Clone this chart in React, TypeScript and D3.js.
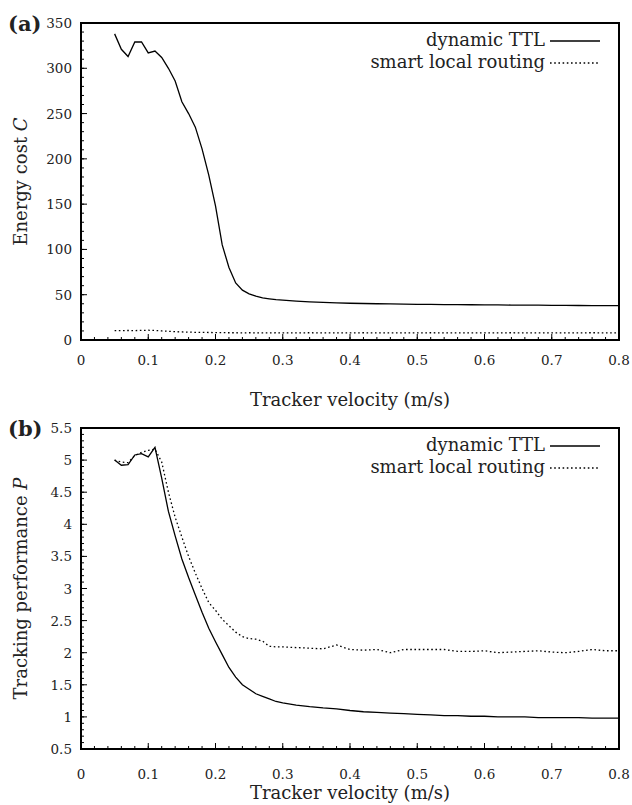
import React from "react";
import * as d3 from "d3";

const velocity = [
  0.05, 0.06, 0.07, 0.08, 0.09, 0.1, 0.11, 0.12, 0.13, 0.14, 0.15, 0.16, 0.17, 0.18, 0.19, 0.2,
  0.21, 0.22, 0.23, 0.24, 0.25, 0.26, 0.27, 0.28, 0.29, 0.3, 0.32, 0.34, 0.36, 0.38, 0.4, 0.42,
  0.44, 0.46, 0.48, 0.5, 0.52, 0.54, 0.56, 0.58, 0.6, 0.62, 0.64, 0.66, 0.68, 0.7, 0.72, 0.74,
  0.76, 0.78, 0.8,
];

const energyDynamic = [
  338, 321, 313, 329, 329, 317, 319, 312, 300, 286, 263, 250, 235, 211, 182, 148,
  105, 80, 63, 55, 51, 48.5, 46.5, 45.5, 44.5, 44, 43, 42.2, 41.5, 41, 40.6, 40.3,
  40, 39.8, 39.6, 39.4, 39.3, 39.1, 39, 38.9, 38.8, 38.7, 38.6, 38.5, 38.4, 38.3, 38.2, 38.1,
  38.0, 38.0, 37.9,
];

const energySmart = [
  10.3, 10.4, 10.5, 10.4, 10.6, 10.8, 10.5, 10.0, 9.6, 9.2, 8.9, 8.7, 8.5, 8.4, 8.3, 8.2,
  8.1, 8.0, 8.0, 7.9, 8.0, 7.9, 7.8, 7.9, 8.0, 7.9, 7.9, 8.0, 7.9, 7.8, 7.9, 8.0,
  7.9, 7.8, 7.9, 7.9, 8.0, 7.9, 7.9, 7.8, 7.9, 7.9, 8.0, 7.9, 7.9, 7.8, 7.9, 7.9,
  8.0, 7.9, 7.9,
];

const perfDynamic = [
  5.0, 4.92, 4.93, 5.08, 5.1, 5.05, 5.2, 4.72, 4.2, 3.82, 3.46, 3.17, 2.9, 2.63, 2.38, 2.17,
  1.97, 1.77, 1.62, 1.5, 1.43, 1.36, 1.32, 1.28, 1.24, 1.22, 1.185, 1.16, 1.14, 1.125, 1.1, 1.08,
  1.07, 1.06, 1.05, 1.04, 1.03, 1.02, 1.02, 1.01, 1.01, 1.0, 1.0, 1.0, 0.99, 0.99, 0.99, 0.99,
  0.98, 0.98, 0.98,
];

const perfSmart = [
  5.0, 4.97, 4.96, 5.07, 5.12, 5.15, 5.17, 4.97, 4.5, 4.11, 3.8, 3.5, 3.24, 3.0, 2.78, 2.66,
  2.52, 2.42, 2.32, 2.25, 2.22, 2.21, 2.18, 2.1, 2.09, 2.09, 2.08, 2.07, 2.06, 2.12, 2.05, 2.04,
  2.05, 2.0, 2.05, 2.05, 2.05, 2.05, 2.02, 2.02, 2.03, 2.0, 2.01, 2.02, 2.03, 2.01, 2.0, 2.02,
  2.05, 2.03, 2.03,
];

const xTicks = [0, 0.1, 0.2, 0.3, 0.4, 0.5, 0.6, 0.7, 0.8];
const energyTicks = [0, 50, 100, 150, 200, 250, 300, 350];
const perfTicks = [0.5, 1, 1.5, 2, 2.5, 3, 3.5, 4, 4.5, 5, 5.5];

const seriesNames = ["dynamic TTL", "smart local routing"];

const FONT = "'DejaVu Serif', 'Liberation Serif', serif";
const DOT = "1.6,2.6";

type PanelProps = {
  top: number;
  bottom: number;
  yDomain: [number, number];
  yTicks: number[];
  yMinorStep: number;
  yFormat: (v: number) => string;
  dynamic: number[];
  smart: number[];
  panelLabel: string;
  yLabel: string;
  yLabelVar: string;
  tickOffset: number;
  titleOffset: number;
};

const LEFT = 81;
const RIGHT = 619;

function Panel(p: PanelProps) {
  const x = d3.scaleLinear().domain([0, 0.8]).range([LEFT, RIGHT]);
  const y = d3.scaleLinear().domain(p.yDomain).range([p.bottom, p.top]);
  const line = d3
    .line<number>()
    .x((_, i) => x(velocity[i]))
    .y((d) => y(d));
  const xMinor = d3.range(0, 0.8001, 0.02);
  const yMinor = d3.range(p.yDomain[0], p.yDomain[1] + 1e-6, p.yMinorStep);
  const midY = (p.top + p.bottom) / 2;
  const legX = 545;
  return (
    <g>
      {xMinor.map((v, i) => (
        <line key={"xm" + i} x1={x(v)} x2={x(v)} y1={p.bottom} y2={p.bottom - 3} stroke="#000" strokeWidth={1} />
      ))}
      {xTicks.map((v, i) => (
        <line key={"xM" + i} x1={x(v)} x2={x(v)} y1={p.bottom} y2={p.bottom - 6} stroke="#000" strokeWidth={1} />
      ))}
      {yMinor.map((v, i) => (
        <line key={"ym" + i} x1={LEFT} x2={LEFT + 3} y1={y(v)} y2={y(v)} stroke="#000" strokeWidth={1} />
      ))}
      {p.yTicks.map((v, i) => (
        <line key={"yM" + i} x1={LEFT} x2={LEFT + 6} y1={y(v)} y2={y(v)} stroke="#000" strokeWidth={1} />
      ))}
      {xTicks.map((v, i) => (
        <text key={"xl" + i} x={x(v)} y={p.bottom + p.tickOffset} textAnchor="middle" fontFamily={FONT} fontSize={13.5} fill="#222">
          {v === 0 ? "0" : d3.format(".1f")(v)}
        </text>
      ))}
      {p.yTicks.map((v, i) => (
        <text key={"yl" + i} x={72} y={y(v) + 5} textAnchor="end" fontFamily={FONT} fontSize={13.5} fill="#222">
          {p.yFormat(v)}
        </text>
      ))}
      <path d={line(p.dynamic) || ""} fill="none" stroke="#000" strokeWidth={1.3} />
      <path d={line(p.smart) || ""} fill="none" stroke="#000" strokeWidth={1.3} strokeDasharray={DOT} />
      <rect x={LEFT} y={p.top} width={RIGHT - LEFT} height={p.bottom - p.top} fill="none" stroke="#000" strokeWidth={2} />
      <text x={legX} y={p.top + 23} textAnchor="end" fontFamily={FONT} fontSize={18} fill="#222">
        {seriesNames[0]}
      </text>
      <line x1={legX + 5} x2={600} y1={p.top + 18} y2={p.top + 18} stroke="#000" strokeWidth={1.3} />
      <text x={legX} y={p.top + 45} textAnchor="end" fontFamily={FONT} fontSize={18} fill="#222">
        {seriesNames[1]}
      </text>
      <line x1={legX + 5} x2={600} y1={p.top + 40} y2={p.top + 40} stroke="#000" strokeWidth={1.3} strokeDasharray={DOT} />
      <text x={(LEFT + RIGHT) / 2} y={p.bottom + p.titleOffset} textAnchor="middle" fontFamily={FONT} fontSize={18} fill="#222">
        Tracker velocity (m/s)
      </text>
      <text
        transform={`translate(27,${midY}) rotate(-90)`}
        textAnchor="middle"
        fontFamily={FONT}
        fontSize={18}
        fill="#222"
      >
        {p.yLabel}
        <tspan fontStyle="italic">{p.yLabelVar}</tspan>
      </text>
      <text x={8} y={p.top + 8} fontFamily={FONT} fontSize={21} fontWeight="bold" fill="#222">
        {p.panelLabel}
      </text>
    </g>
  );
}

export default function App() {
  return (
    <svg width={632} height={805} style={{ position: "absolute", left: 0, top: 0, background: "#fff" }}>
      <rect x={0} y={0} width={632} height={805} fill="#fff" />
      <Panel
        top={23}
        bottom={340}
        yDomain={[0, 350]}
        yTicks={energyTicks}
        yMinorStep={10}
        yFormat={(v) => String(v)}
        dynamic={energyDynamic}
        smart={energySmart}
        panelLabel="(a)"
        yLabel="Energy cost "
        yLabelVar="C"
        tickOffset={25}
        titleOffset={66}
      />
      <Panel
        top={428}
        bottom={749}
        yDomain={[0.5, 5.5]}
        yTicks={perfTicks}
        yMinorStep={0.1}
        yFormat={(v) => String(v)}
        dynamic={perfDynamic}
        smart={perfSmart}
        panelLabel="(b)"
        yLabel="Tracking performance "
        yLabelVar="P"
        tickOffset={30}
        titleOffset={50}
      />
    </svg>
  );
}
